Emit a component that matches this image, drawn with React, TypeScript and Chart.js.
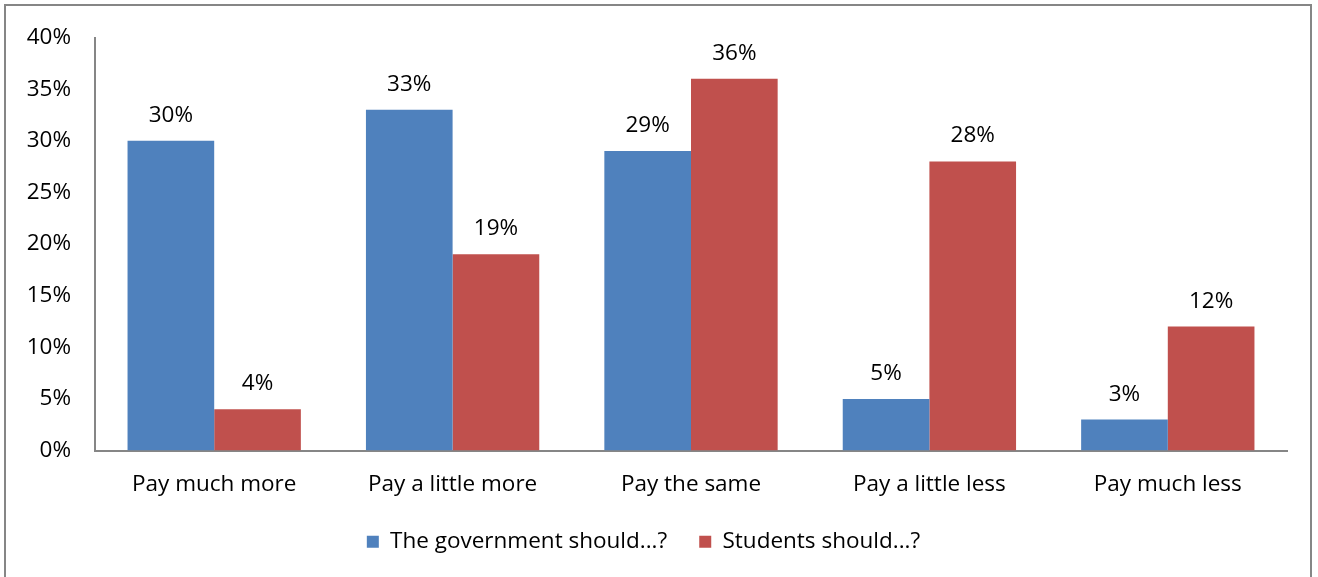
import React, { useEffect, useRef } from "react";
import { Chart, registerables } from "chart.js";

Chart.register(...registerables);

const categories = ["Pay much more", "Pay a little more", "Pay the same", "Pay a little less", "Pay much less"];
const governmentValues = [30, 33, 29, 5, 3];
const studentValues = [4, 19, 36, 28, 12];
const seriesNames = ["The government should...?", "Students should...?"];
const yTicks = { min: 0, max: 40, step: 5 };

const FONT = "'Open Sans', Lato, sans-serif";
const FONT_SIZE = 22.5;
const AXIS_GRAY = "#868686";

const dataLabelPlugin = {
  id: "dataLabels",
  afterDatasetsDraw(chart: any) {
    const ctx = chart.ctx;
    ctx.save();
    ctx.font = `${FONT_SIZE}px ${FONT}`;
    ctx.fillStyle = "#000";
    ctx.textAlign = "center";
    ctx.textBaseline = "alphabetic";
    chart.data.datasets.forEach((ds: any, i: number) => {
      const meta = chart.getDatasetMeta(i);
      meta.data.forEach((el: any, j: number) => {
        ctx.fillText(ds.data[j] + "%", el.x, el.y - 19);
      });
    });
    ctx.restore();
  },
};

export default function App() {
  const ref = useRef<HTMLCanvasElement>(null);
  useEffect(() => {
    if (!ref.current) return;
    const chart = new Chart(ref.current, {
      type: "bar",
      data: {
        labels: categories,
        datasets: [
          {
            label: seriesNames[0],
            data: governmentValues,
            backgroundColor: "#4F81BD",
            borderWidth: 0,
            categoryPercentage: 0.727,
            barPercentage: 1,
          },
          {
            label: seriesNames[1],
            data: studentValues,
            backgroundColor: "#C0504D",
            borderWidth: 0,
            categoryPercentage: 0.727,
            barPercentage: 1,
          },
        ],
      },
      options: {
        animation: false,
        responsive: true,
        maintainAspectRatio: false,
        layout: { padding: { top: 35, right: 31, bottom: 14, left: 0 } },
        plugins: {
          tooltip: { enabled: false },
          legend: {
            position: "bottom",
            labels: {
              boxWidth: 12,
              boxHeight: 12,
              padding: 32,
              color: "#000",
              font: { family: FONT, size: FONT_SIZE },
            },
          },
        },
        scales: {
          x: {
            grid: { display: false, drawTicks: false },
            border: { display: true, color: AXIS_GRAY, width: 2 },
            ticks: { color: "#000", font: { family: FONT, size: FONT_SIZE }, padding: 21, maxRotation: 0 },
            afterFit: (s: any) => {
              s.height = 48;
            },
          },
          y: {
            min: yTicks.min,
            max: yTicks.max,
            grid: { display: false, drawTicks: false },
            border: { display: true, color: AXIS_GRAY, width: 2 },
            ticks: {
              stepSize: yTicks.step,
              color: "#000",
              font: { family: FONT, size: FONT_SIZE },
              padding: 24,
              callback: (v: any) => v + "%",
            },
            afterFit: (s: any) => {
              s.width = 95;
            },
          },
        },
      },
      plugins: [dataLabelPlugin],
    });
    return () => chart.destroy();
  }, []);

  return (
    <div style={{ position: "fixed", left: 0, top: 0, width: 1318, height: 577, background: "#fff" }}>
      <div
        style={{
          position: "absolute",
          left: 4,
          top: 4,
          width: 1308,
          height: 590,
          border: `2px solid ${AXIS_GRAY}`,
          boxSizing: "border-box",
        }}
      />
      <canvas ref={ref} style={{ position: "absolute", left: 0, top: 0, width: 1318, height: 577 }} />
    </div>
  );
}
